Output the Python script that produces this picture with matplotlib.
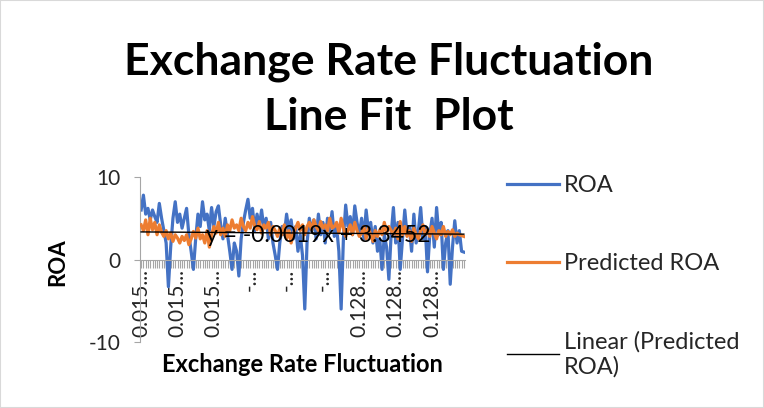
import numpy as np
import matplotlib
matplotlib.use("Agg")
import matplotlib.pyplot as plt
from matplotlib.ticker import FixedLocator, MultipleLocator

plt.rcParams['font.family'] = ['Lato', 'DejaVu Sans']
plt.rcParams['axes.unicode_minus'] = False

# observed ROA per observation (ordered by exchange rate category)
roa = [6.0, 7.8, 5.5, 6.2, 4.8, 6.0, 5.2, 4.5, 6.8, 5.0,
       3.5, 2.0, -3.3, 1.5, 5.0, 7.0, 4.5, 5.5, 3.8, 5.0,
       6.2, 3.0, 1.0, -1.2, 2.5, 5.5, 4.0, 7.0, 4.8, 5.5,
       3.5, 6.3, 4.0, 5.8, 6.5, 4.2, 2.5, 5.0, 3.0, 1.0,
       -1.2, 2.0, 1.0, -2.0, 2.5, 4.5, 6.0, 7.3, 5.0, 6.2,
       3.5, 5.5, 4.0, 6.0, 3.8, 5.0, 2.5, 4.5, 2.0, 0.5,
       -1.2, 2.0, 4.0, 3.0, 5.5, 3.5, 4.8, 2.5, 4.0, 1.0,
       3.0, 0.5, -6.0, 2.0, 5.0, 3.5, 4.8, 2.5, 5.5, 3.0,
       4.5, 2.0, 5.0, 3.5, 5.8, 2.8, 4.0, 1.0, -6.0, 2.5,
       6.6, 4.0, 5.2, 3.0, 6.5, 4.5, 3.0, 5.0, 2.5, 6.0,
       3.5, 4.5, 2.0, 4.0, 1.0, 2.5, -1.2, 3.0, 1.5, -2.4,
       3.0, 6.3, 2.0, 4.5, -1.2, 2.5, 6.0, 3.0, 4.0, 1.0,
       5.5, 2.0, 3.5, 6.3, 2.5, 4.0, -1.5, 3.0, 5.0, 1.5,
       6.3, 3.0, 4.5, -1.2, 2.0, 3.5, -3.0, 1.5, 4.7, 2.0,
       3.5, 1.0, 0.9]

# fitted values from the regression
predicted = [4.2, 3.5, 4.8, 3.0, 5.0, 3.6, 4.5, 3.0, 4.2, 3.3,
             2.8, 3.5, 2.5, 3.2, 2.2, 3.0, 2.6, 2.0, 2.8, 2.3,
             3.0, 1.8, 2.5, 3.4, 2.6, 3.8, 2.5, 3.0, 2.0, 3.5,
             1.5, 3.0, 4.0, 3.2, 4.5, 3.0, 3.8, 2.8, 4.2, 3.5,
             4.8, 3.8, 4.2, 3.5, 5.0, 4.0, 3.5, 4.5, 3.8, 5.2,
             4.0, 3.6, 4.6, 3.2, 4.2, 3.8, 4.5, 3.0, 4.0, 3.5,
             2.8, 3.8, 3.0, 4.2, 2.5, 3.5, 2.0, 3.2, 3.8, 4.5,
             3.5, 4.2, 3.0, 4.0, 4.5, 3.6, 4.8, 4.0, 3.5, 4.6,
             3.8, 4.2, 3.5, 5.0, 3.8, 4.0, 4.5, 3.2, 5.0, 3.8,
             2.8, 3.5, 4.2, 3.0, 4.5, 3.5, 2.8, 3.2, 4.0, 2.5,
             3.8, 3.0, 2.2, 3.5, 2.8, 3.6, 3.0, 4.5, 3.2, 4.0,
             3.5, 3.0, 3.8, 2.5, 4.6, 3.0, 4.0, 2.8, 3.5, 2.2,
             3.8, 3.0, 2.5, 3.5, 4.2, 3.0, 3.6, 2.8, 4.0, 3.2,
             2.5, 3.5, 3.0, 4.0, 2.8, 3.4, 3.0, 3.6, 2.8, 3.2,
             3.0, 2.9, 2.8]

# category labels shown every 16th point
tick_labels = ["0.015...", "0.015...", "0.015...", "-...", "-...", "-...",
               "0.128...", "0.128...", "0.128..."]
label_step = 16

slope = -0.0019
intercept = 3.3452

n = len(roa)
idx = np.arange(n)
trend = slope * (idx + 1) + intercept

fig = plt.figure(figsize=(7.64, 4.08), dpi=100)
ax = fig.add_axes([140 / 764, 66 / 408, 325 / 764, 165 / 408])

ax.plot(idx, roa, color='#4472C4', lw=2.3, label='ROA', zorder=2)
ax.plot(idx, predicted, color='#ED7D31', lw=2.3, label='Predicted ROA', zorder=3)
ax.plot(idx, trend, color='black', lw=1.0, label='Linear (Predicted\nROA)', zorder=4)

ax.set_xlim(-0.5, n - 0.5)
ax.set_ylim(-10, 10)
ax.set_yticks([-10, 0, 10])
ax.tick_params(axis='y', labelsize=15, length=4, color='#A6A6A6', labelcolor='#262626', pad=10)

# x axis crosses at zero, ticks on every category
ax.spines['bottom'].set_position(('data', 0))
for s in ['top', 'right']:
    ax.spines[s].set_visible(False)
ax.spines['bottom'].set_color('#A6A6A6')
ax.spines['left'].set_color('#A6A6A6')

major = idx[::label_step][:len(tick_labels)]
ax.xaxis.set_major_locator(FixedLocator(major))
ax.set_xticklabels(tick_labels, rotation=90, fontsize=15, color='#262626')
ax.xaxis.set_minor_locator(MultipleLocator(1))
ax.tick_params(axis='x', which='both', length=6, width=0.8, color='#A6A6A6', pad=1)

ax.text(78, 2.9, 'y = -0.0019x + 3.3452', ha='center', va='center',
        fontsize=16.5, color='black', zorder=5)

fig.text(58 / 764, 1 - 262 / 408, 'ROA', rotation=90, ha='center', va='center',
         fontsize=16, fontweight='bold', color='black')
fig.text(302 / 764, 1 - 365 / 408, 'Exchange Rate Fluctuation', ha='center', va='center',
         fontsize=17, fontweight='bold', color='black')

fig.text(389 / 764, 1 - 62 / 408, 'Exchange Rate Fluctuation', ha='center', va='center',
         fontsize=32, fontweight='bold', color='black')
fig.text(389 / 764, 1 - 117 / 408, 'Line Fit  Plot', ha='center', va='center',
         fontsize=32, fontweight='bold', color='black')

leg = fig.legend(loc='upper left', bbox_to_anchor=(498 / 764, 1 - 166 / 408),
                 frameon=False, fontsize=17, handlelength=2.2, handletextpad=0.2,
                 labelspacing=2.4, borderaxespad=0)
for t in leg.get_texts():
    t.set_color('#262626')

fig.patches.append(plt.Rectangle((0, 0), 1, 1, transform=fig.transFigure,
                                 fill=False, edgecolor='#D9D9D9', lw=1.5))

fig.savefig('out.png', dpi=100)
